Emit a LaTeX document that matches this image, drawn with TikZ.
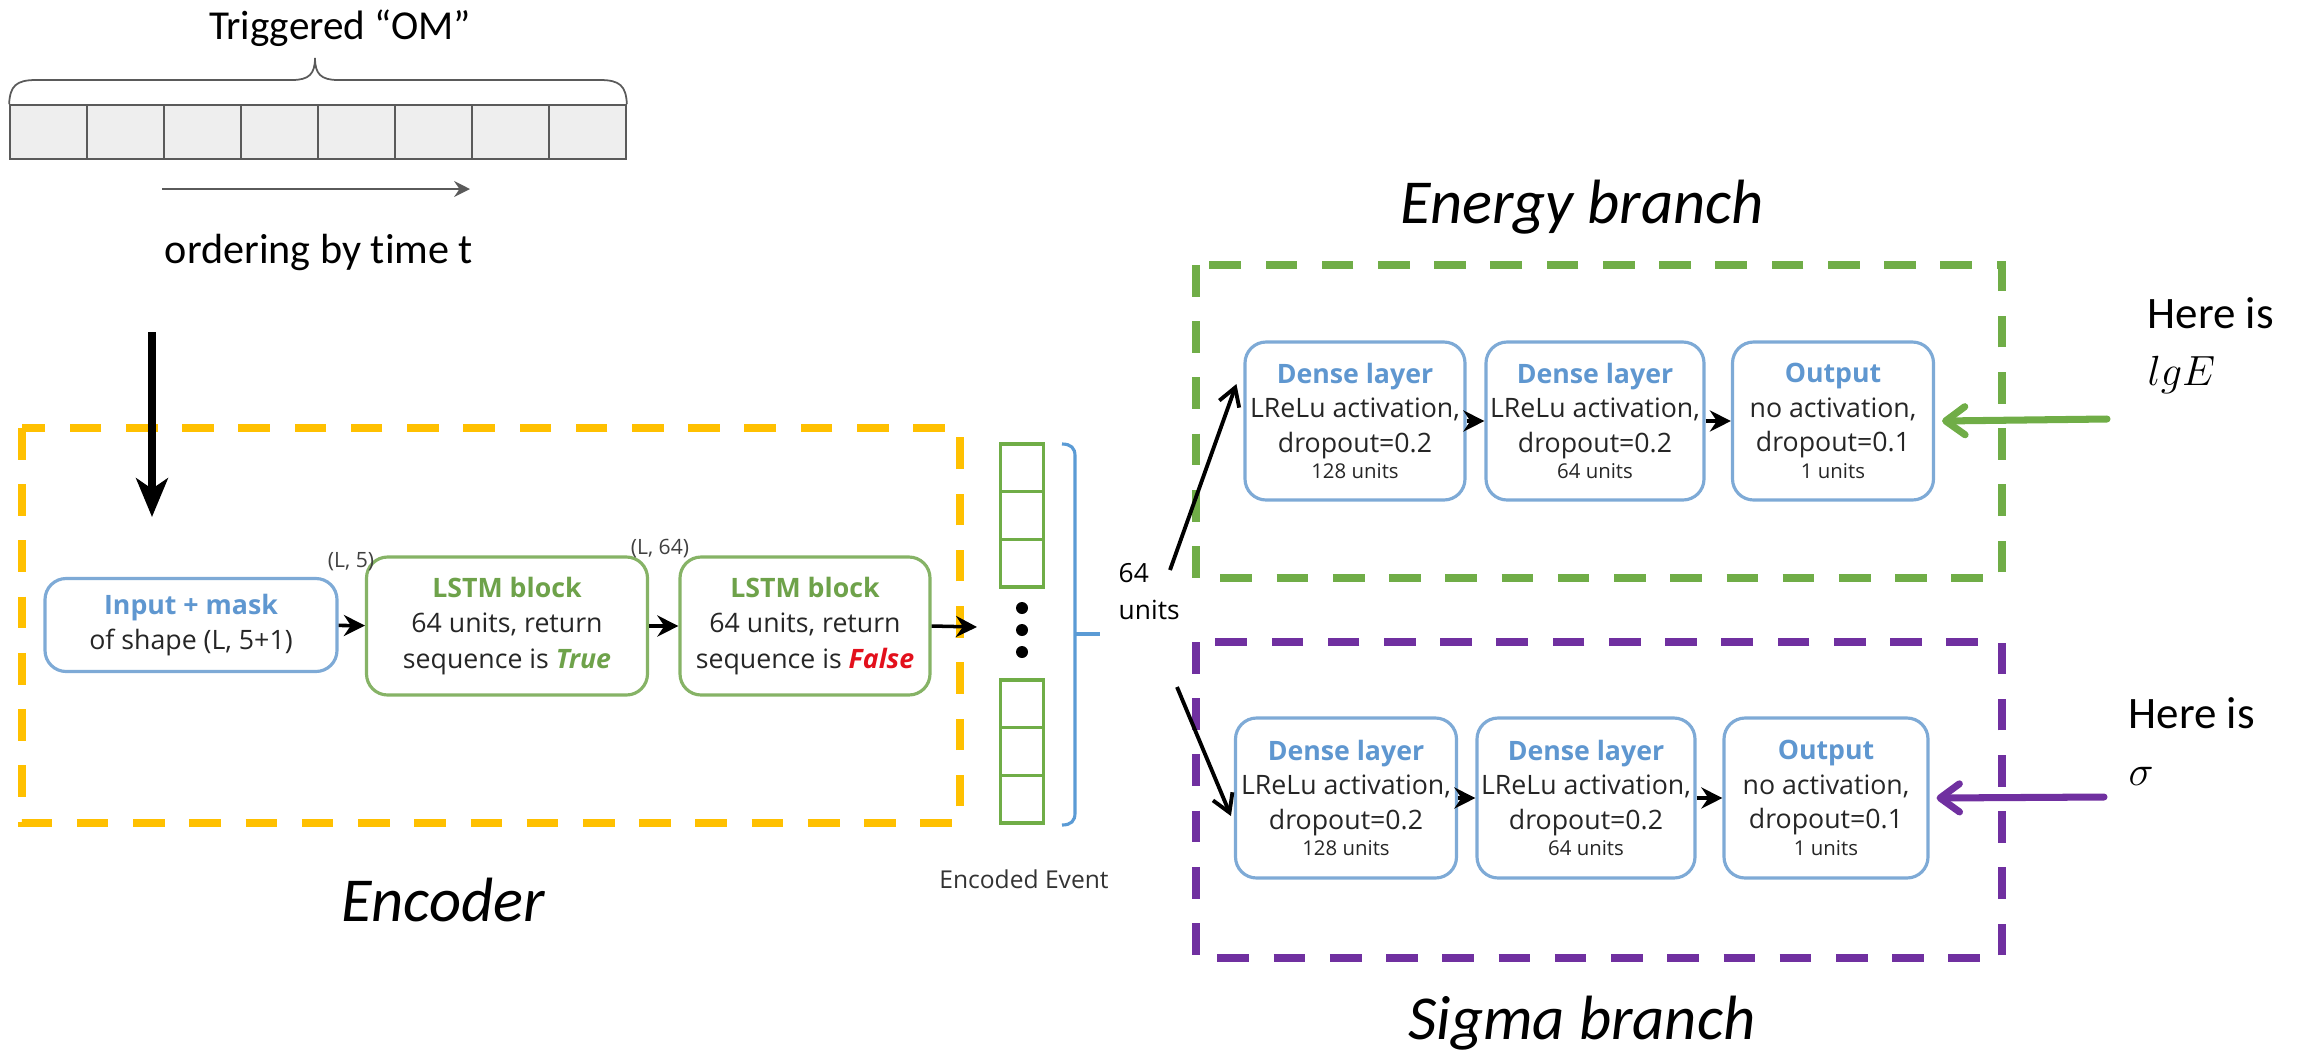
\documentclass[tikz,border=0pt]{standalone}
\usepackage{fontspec}
\setmainfont{Carlito}[Ligatures=NoCommon]
\newfontfamily\boxfont{Open Sans}
\usetikzlibrary{arrows.meta}

\definecolor{encyellow}{HTML}{FFC000}
\definecolor{enggreen}{HTML}{70AD47}
\definecolor{sigpurple}{HTML}{7030A0}
\definecolor{boxblue}{HTML}{7EAAD6}
\definecolor{titleblue}{HTML}{5F97D0}
\definecolor{lstmgreen}{HTML}{86B366}
\definecolor{titlegreen}{HTML}{6EA24A}
\definecolor{falsered}{HTML}{E3101C}
\definecolor{cellgray}{HTML}{EEEEEE}
\definecolor{edgegray}{HTML}{5A5A5A}
\definecolor{bodytext}{HTML}{262626}
\definecolor{bracketblue}{HTML}{5B9BD5}

\newcommand\ttl[2]{{\bfseries\color{#1}#2}}
\newcommand\flag[2]{{\bfseries\itshape\color{#1}#2}}
\newcommand\unitsize{\fontsize{5.8}{7}\selectfont}

\begin{document}
\begin{tikzpicture}[x=0.1mm,y=-0.1mm,
  region/.style={line width=2.3pt, dash pattern=on 9pt off 7pt},
  layer/.style={draw=boxblue, line width=0.9pt, rounded corners=6pt, fill=white,
    align=center, inner sep=0pt, text=bodytext,
    font=\boxfont\fontsize{7.6}{9.8}\selectfont},
  lstm/.style={layer, draw=lstmgreen, font=\boxfont\fontsize{7.6}{10.2}\selectfont},
  cell/.style={draw=edgegray, fill=cellgray, line width=0.5pt,
    minimum width=7.7mm, minimum height=5.4mm, inner sep=0pt},
  enc/.style={draw=enggreen, line width=0.9pt, fill=white,
    minimum width=4.3mm, minimum height=4.77mm, inner sep=0pt},
  conn/.style={line width=1pt, -{Stealth[length=6pt,width=6pt,inset=2pt]}},
  branch/.style={line width=1.1pt, -{Straight Barb[length=5pt,width=6pt]}},
  hint/.style={line width=2pt, line cap=round, -{Straight Barb[length=5.5pt,width=8pt,round]}},
  caption/.style={font=\itshape\fontsize{17.8}{20}\selectfont, inner sep=0pt},
  small/.style={font=\boxfont\fontsize{6}{7}\selectfont, text=black!75, inner sep=0pt}
]
\useasboundingbox (0,0) rectangle (2307,1055);

% ---- time-ordered sequence of triggered optical modules ----
\foreach \i in {0,...,7}
  \node[cell] (c\i) at (48.5+77*\i,132) {};
\node[font=\fontsize{11.7}{14}\selectfont, anchor=base, inner sep=0pt] (trig) at (340,39) {Triggered “OM”};
\draw[edgegray, line width=0.5pt] (c0.north west) .. controls (10,86) and (16,80) .. (36,80)
  -- (292,80) .. controls (309,80) and (315,74) .. (315,58)
  .. controls (315,74) and (321,80) .. (338,80) -- (600,80)
  .. controls (620,80) and (626,86) .. (c7.north east);
\coordinate (tstart) at (162,189);
\coordinate (tend) at (470,189);
\draw[edgegray, line width=0.6pt, -{Stealth[length=4.5pt,width=4.5pt,inset=1.5pt]}] (tstart) -- (tend);
\node[font=\fontsize{12}{14}\selectfont, anchor=base, inner sep=0pt] (order) at (319,263) {ordering by time t};

% ---- encoder ----
\draw[region, encyellow] (22,428) rectangle (960,823);
\node[layer, minimum width=29.2mm, minimum height=9.3mm] (inp) at (191,625)
  {\ttl{titleblue}{Input + mask}\\of shape (L, 5+1)};
\node[lstm, minimum width=28.1mm, minimum height=13.8mm] (l1) at (507,626)
  {\ttl{titlegreen}{LSTM block}\\64 units, return\\sequence is \flag{titlegreen}{True}};
\node[lstm, minimum width=25mm, minimum height=13.8mm] (l2) at (805,626)
  {\ttl{titlegreen}{LSTM block}\\64 units, return\\sequence is \flag{falsered}{False}};
\node[small] (s1) at (351,562) {(L, 5)};
\node[small] (s2) at (660,549) {(L, 64)};

\coordinate (feed) at (152,332);
\draw[line width=2.3pt, -{Stealth[length=11pt,width=9pt,inset=3pt]}] (feed) -- (152,517);
\draw[conn] (inp) -- (l1);
\draw[conn] (l1) -- (l2);
\coordinate (encin) at (977,627);
\draw[conn] (l2.east) -- (encin);

\node[caption, anchor=base] (enccap) at (443,921) {Encoder};

% ---- encoded event vector ----
\foreach \i in {0,1,2}
  \node[enc] (ea\i) at (1022,467.8+47.7*\i) {};
\foreach \i in {0,1,2}
  \node[enc] (eb\i) at (1022,703.8+47.7*\i) {};
\foreach \y in {608,630,652}
  \fill (1022,\y) circle (6);
\draw[bracketblue, line width=0.9pt] (1062,444) .. controls (1071,444) and (1075,448) .. (1075,456)
  -- (1075,813) .. controls (1075,821) and (1071,825) .. (1062,825);
\draw[bracketblue, line width=0.9pt] (1075,634) -- (1100,634);
\node[font=\boxfont\fontsize{7.5}{10.5}\selectfont, anchor=base west, align=left, inner sep=0pt] (units) at (1118,619) {64\\units};
\node[font=\boxfont\fontsize{7}{8}\selectfont, text=black!80, anchor=base, inner sep=0pt] (evt) at (1024,888) {Encoded Event};

% ---- energy branch ----
\node[caption, anchor=base] (ecap) at (1582,223) {Energy branch};
\draw[region, enggreen] (1196,265) rectangle (2002,578);
\node[layer, minimum width=22mm, minimum height=15.8mm] (e1) at (1355,421)
  {\ttl{titleblue}{Dense layer}\\LReLu activation,\\dropout=0.2\\[-2.3pt]{\unitsize 128 units}};
\node[layer, minimum width=21.8mm, minimum height=15.8mm] (e2) at (1595,421)
  {\ttl{titleblue}{Dense layer}\\LReLu activation,\\dropout=0.2\\[-2.3pt]{\unitsize 64 units}};
\node[layer, minimum width=20.1mm, minimum height=15.8mm] (e3) at (1833,421)
  {\ttl{titleblue}{Output}\\no activation,\\dropout=0.1\\[-2.3pt]{\unitsize 1 units}};
\draw[conn] (e1) -- (e2);
\draw[conn] (e2) -- (e3);
\node[font=\fontsize{12.8}{16.2}\selectfont, anchor=base west, align=left, inner sep=0pt] (hereE) at (2147,385) {Here is\\$lgE$};
\coordinate (eTarget) at (2107,419);
\draw[hint, enggreen] (eTarget) -- ([xshift=0.7mm]e3.east);

% ---- sigma branch ----
\draw[region, sigpurple] (1196,642) rectangle (2002,958);
\node[layer, minimum width=22.1mm, minimum height=16mm] (g1) at (1346,798)
  {\ttl{titleblue}{Dense layer}\\LReLu activation,\\dropout=0.2\\[-2.3pt]{\unitsize 128 units}};
\node[layer, minimum width=21.8mm, minimum height=16mm] (g2) at (1586,798)
  {\ttl{titleblue}{Dense layer}\\LReLu activation,\\dropout=0.2\\[-2.3pt]{\unitsize 64 units}};
\node[layer, minimum width=20.4mm, minimum height=16mm] (g3) at (1826,798)
  {\ttl{titleblue}{Output}\\no activation,\\dropout=0.1\\[-2.3pt]{\unitsize 1 units}};
\draw[conn] (g1) -- (g2);
\draw[conn] (g2) -- (g3);
\node[font=\fontsize{12.8}{16.2}\selectfont, anchor=base west, align=left, inner sep=0pt] (hereS) at (2128,785) {Here is\\$\sigma$};
\coordinate (sTarget) at (2104,797);
\draw[hint, sigpurple] (sTarget) -- ([xshift=0.7mm]g3.east);
\node[caption, anchor=base] (scap) at (1582,1039) {Sigma branch};

% ---- split of the encoded event into both branches ----
\coordinate (upFrom) at (1170,570);
\coordinate (downFrom) at (1177,687);
\draw[branch] (upFrom) -- ([shift={(-0.7mm,3.7mm)}]e1.west);
\draw[branch] (downFrom) -- ([shift={(-0.3mm,-1.8mm)}]g1.west);
\end{tikzpicture}
\end{document}
